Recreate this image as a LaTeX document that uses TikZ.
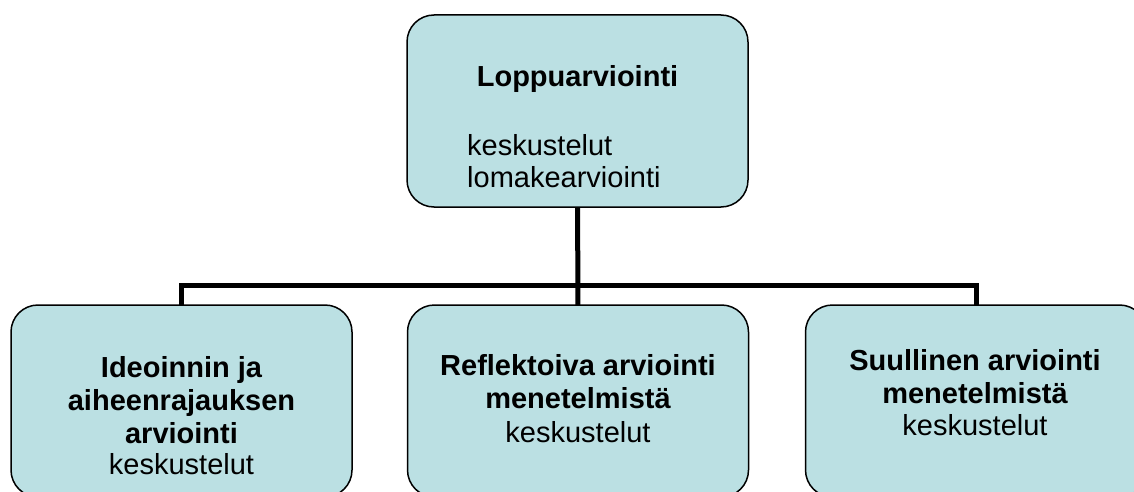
\documentclass[tikz,border=0pt]{standalone}
\usepackage{fontspec}
\setmainfont{Liberation Sans}
\usetikzlibrary{backgrounds}
\definecolor{boxfill}{HTML}{BBE0E3}
\tikzset{
  box/.style={draw=black, line width=1.5pt, fill=boxfill, rounded corners=27pt,
    minimum width=341pt, inner sep=0pt},
  conn/.style={draw=black, line width=5pt},
  head/.style={font=\fontsize{29}{33}\selectfont\bfseries, inner sep=0pt},
  item/.style={font=\fontsize{29}{33}\selectfont, inner sep=0pt},
}
\begin{document}
\begin{tikzpicture}[x=1pt, y=-1pt]
  \useasboundingbox (0,0) rectangle (1134,492);
  \clip (0,0) rectangle (1134,492);

  \coordinate (bus) at (0,285);

  % boxes
  \node[box, minimum height=192pt] (top) at (577.5,111) {};
  \node[box, minimum height=192pt] (left) at (181.5,401) {};
  \node[box, minimum height=192pt] (mid) at (578,401) {};
  \node[box, minimum height=192pt] (right) at (976,401) {};

  % connectors, kept behind the boxes
  \begin{pgfonlayer}{background}
    \draw[conn] (top.center) -- (mid.center);
    \draw[conn] (left.center) -- (left.center |- bus) -- (right.center |- bus) -- (right.center);
  \end{pgfonlayer}

  % top box text
  \node[head, anchor=base] (t1) at (577.5,87) {Loppuarviointi};
  \node[item, anchor=base west] (t2) at (467,155) {keskustelut};
  \node[item, anchor=base west] (t3) at (467,187) {lomakearviointi};

  % left box text
  \node[head, anchor=base] (l1) at (181.5,377) {Ideoinnin ja};
  \node[head, anchor=base] (l2) at (181.5,410) {aiheenrajauksen};
  \node[head, anchor=base] (l3) at (181.5,443) {arviointi};
  \node[item, anchor=base] (l4) at (181.5,474) {keskustelut};

  % middle box text
  \node[head, anchor=base] (m1) at (578,375) {Reflektoiva arviointi};
  \node[head, anchor=base] (m2) at (578,408) {menetelmistä};
  \node[item, anchor=base] (m3) at (578,442) {keskustelut};

  % right box text
  \node[head, anchor=base] (r1) at (975,370) {Suullinen arviointi};
  \node[head, anchor=base] (r2) at (975,403) {menetelmistä};
  \node[item, anchor=base] (r3) at (975,435) {keskustelut};
\end{tikzpicture}
\end{document}
